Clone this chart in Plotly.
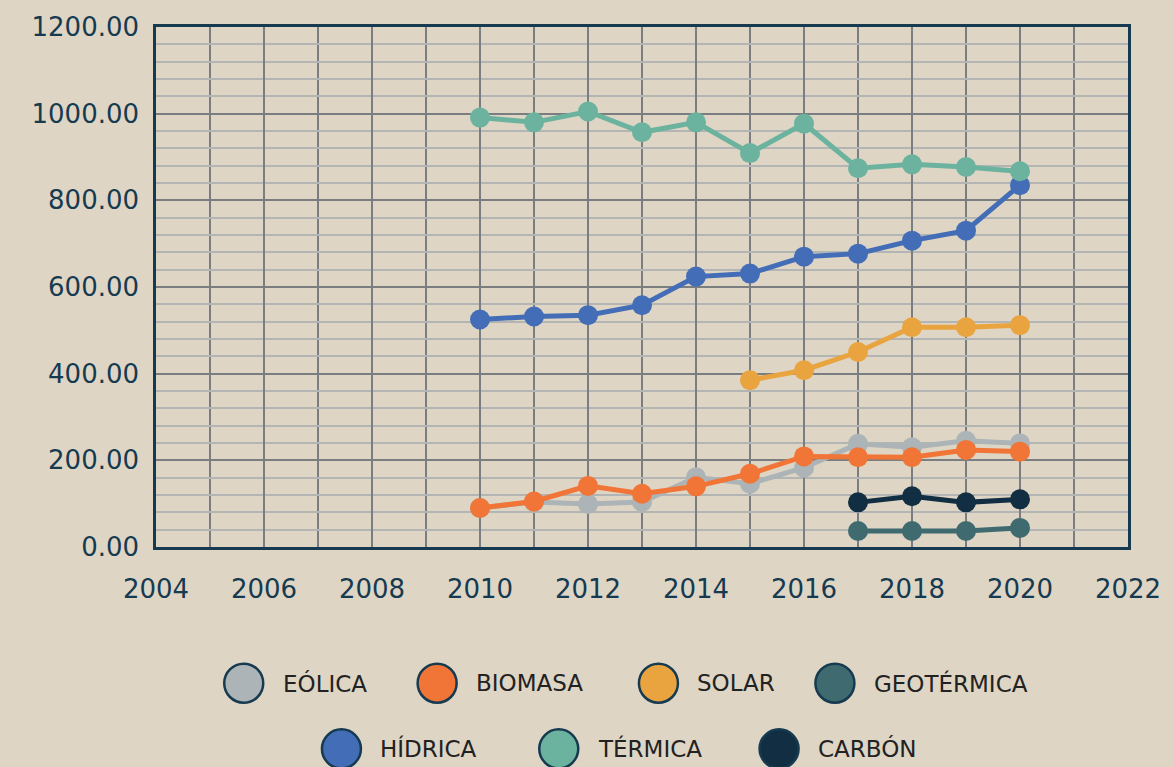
import plotly.graph_objects as go

years = [2010, 2011, 2012, 2013, 2014, 2015, 2016, 2017, 2018, 2019, 2020]

eolica = [90, 104, 99, 104, 161, 146, 183, 238, 230, 245, 239]
biomasa = [90, 105, 141, 123, 140, 169, 209, 207, 207, 224, 220]
solar = [None, None, None, None, None, 385, 408, 450, 507, 507, 512]
geotermica = [None, None, None, None, None, None, None, 37, 37, 37, 44]
hidrica = [525, 532, 535, 558, 624, 631, 670, 677, 707, 730, 835]
termica = [991, 980, 1005, 957, 980, 909, 977, 874, 883, 877, 867]
carbon = [None, None, None, None, None, None, None, 103, 117, 103, 110]

names = ["EÓLICA", "BIOMASA", "SOLAR", "GEOTÉRMICA", "HÍDRICA", "TÉRMICA", "CARBÓN"]
series = [eolica, biomasa, solar, geotermica, hidrica, termica, carbon]
colors = ["#adb4b7", "#f07536", "#e9a43f", "#3f6a70", "#436db7", "#6bb39e", "#112e42"]

BG = "#ded5c4"
NAVY = "#163a50"
FONT = "DejaVu Sans"

fig = go.Figure()
for name, vals, col in zip(names, series, colors):
    fig.add_trace(go.Scatter(
        x=years, y=vals, name=name, mode="lines+markers",
        line=dict(color=col, width=5),
        marker=dict(color=col, size=20),
        showlegend=False,
    ))

# custom legend: big outlined circles like the original
legend_pos = [
    (244, 684), (438, 684), (660, 684), (837, 684),
    (342, 750), (560, 750), (781, 750),
]
L, R, T, B = 156, 42, 24, 220
W, H = 1173, 767
pw, ph = W - L - R, H - T - B
shapes = []
annotations = []
for name, col, (cx, cy) in zip(names, colors, legend_pos):
    xp = (cx - L) / pw
    yp = (H - B - cy) / ph
    shapes.append(dict(
        type="circle", xref="paper", yref="paper",
        xsizemode="pixel", ysizemode="pixel", xanchor=xp, yanchor=yp,
        x0=-19.5, x1=19.5, y0=-19.5, y1=19.5,
        fillcolor=col, line=dict(color=NAVY, width=2.5),
    ))
    annotations.append(dict(
        x=xp, y=yp, xref="paper", yref="paper", text=name,
        showarrow=False, xanchor="left", yanchor="middle", xshift=37,
        font=dict(family=FONT, size=23, color="#222222"),
    ))

fig.update_layout(
    width=W, height=H,
    margin=dict(l=L, r=R, t=T, b=B),
    paper_bgcolor=BG, plot_bgcolor=BG,
    shapes=shapes, annotations=annotations,
    font=dict(family=FONT, color=NAVY),
)
fig.update_xaxes(
    range=[2004, 2022], dtick=2, tick0=2004,
    showgrid=True, gridcolor="#7b7e80", gridwidth=2,
    minor=dict(dtick=1, showgrid=True, gridcolor="#7b7e80", gridwidth=2),
    showline=True, linecolor=NAVY, linewidth=2.5, mirror=True,
    zeroline=False, ticks="", ticklabelstandoff=17,
    tickfont=dict(family=FONT, size=26, color=NAVY),
)
fig.update_yaxes(
    range=[0, 1200], dtick=200, tickformat=".2f",
    showgrid=True, gridcolor="#7b7e80", gridwidth=2,
    minor=dict(dtick=40, showgrid=True, gridcolor="#b2b5b3", gridwidth=2),
    showline=True, linecolor=NAVY, linewidth=2.5, mirror=True,
    zeroline=False, ticks="", ticklabelstandoff=9,
    tickfont=dict(family=FONT, size=26, color=NAVY),
)

fig.write_html("out.html", config={"displayModeBar": False},
               post_script="document.body.style.margin='0';")
